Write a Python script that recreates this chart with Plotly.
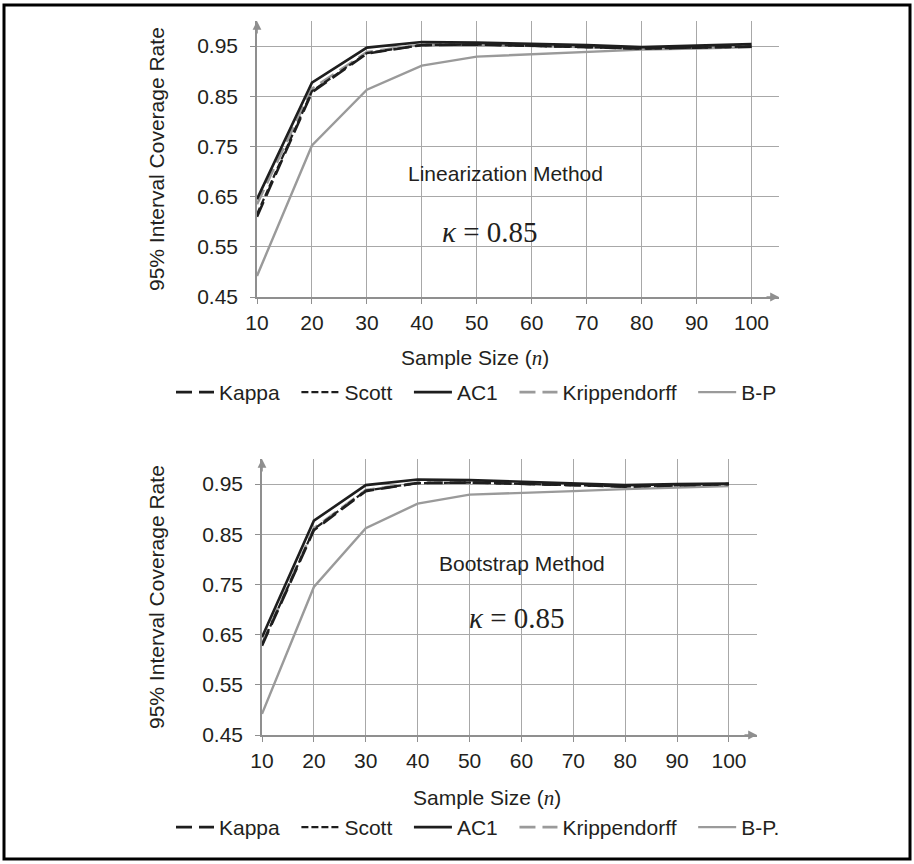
import plotly.graph_objects as go

n_values = [10, 20, 30, 40, 50, 60, 70, 80, 90, 100]

# Linearization method (top panel)
lin_kappa = [0.610, 0.858, 0.935, 0.952, 0.953, 0.951, 0.948, 0.945, 0.947, 0.949]
lin_scott = [0.615, 0.860, 0.936, 0.952, 0.953, 0.951, 0.948, 0.945, 0.947, 0.949]
lin_ac1 = [0.645, 0.877, 0.947, 0.958, 0.957, 0.955, 0.952, 0.948, 0.951, 0.954]
lin_kripp = [0.635, 0.865, 0.938, 0.953, 0.953, 0.951, 0.948, 0.945, 0.947, 0.949]
lin_bp = [0.492, 0.752, 0.863, 0.911, 0.929, 0.934, 0.938, 0.943, 0.945, 0.948]

# Bootstrap method (bottom panel)
boot_kappa = [0.628, 0.858, 0.936, 0.952, 0.953, 0.951, 0.948, 0.945, 0.947, 0.950]
boot_scott = [0.630, 0.860, 0.937, 0.952, 0.953, 0.951, 0.948, 0.945, 0.947, 0.950]
boot_ac1 = [0.645, 0.877, 0.948, 0.959, 0.958, 0.955, 0.952, 0.948, 0.950, 0.951]
boot_kripp = [0.632, 0.862, 0.938, 0.953, 0.953, 0.951, 0.948, 0.945, 0.947, 0.950]
boot_bp = [0.492, 0.745, 0.862, 0.911, 0.929, 0.932, 0.936, 0.940, 0.943, 0.946]

series_names_top = ["Kappa", "Scott", "AC1", "Krippendorff", "B-P"]
series_names_bottom = ["Kappa", "Scott", "AC1", "Krippendorff", "B-P."]

y_ticks = [0.45, 0.55, 0.65, 0.75, 0.85, 0.95]
y_tick_text = ["0.45", "0.55", "0.65", "0.75", "0.85", "0.95"]

BLACK = "#1e1e1e"
GRAY = "#9a9a9a"
GRID = "#a8a8a8"
AXIS = "#8f8f8f"
TEXT = "#231f20"
SANS = "Liberation Sans, Arial, sans-serif"
SERIF = "Liberation Serif, Times New Roman, serif"
FS = 21

styles = [
    dict(color=BLACK, width=2.6, dash="16px,7px"),
    dict(color=BLACK, width=2.2, dash="7px,3px"),
    dict(color=BLACK, width=2.6, dash="solid"),
    dict(color=GRAY, width=2.6, dash="16px,7px"),
    dict(color=GRAY, width=2.4, dash="solid"),
]

PAD = "\u00a0\u00a0"

fig = go.Figure()

top_series = [lin_kappa, lin_scott, lin_ac1, lin_kripp, lin_bp]
bot_series = [boot_kappa, boot_scott, boot_ac1, boot_kripp, boot_bp]

order = [4, 3, 0, 1, 2]
for i in order:
    fig.add_trace(go.Scatter(x=n_values, y=top_series[i], mode="lines",
                             name=series_names_top[i] + PAD, line=styles[i],
                             xaxis="x", yaxis="y", legend="legend",
                             legendrank=i + 1))
for i in order:
    fig.add_trace(go.Scatter(x=n_values, y=bot_series[i], mode="lines",
                             name=series_names_bottom[i] + PAD, line=styles[i],
                             xaxis="x2", yaxis="y2", legend="legend2",
                             legendrank=i + 1))

W, H = 914, 864

def px_x(p):
    return p / W

def px_y(p):
    return 1 - p / H

axis_common = dict(
    showgrid=True, gridcolor=GRID, gridwidth=1.3,
    showline=True, linecolor=AXIS, linewidth=1.6,
    ticks="outside", ticklen=5, tickcolor=AXIS, tickwidth=1.3,
    tickfont=dict(family=SANS, size=FS, color=TEXT),
    zeroline=False, automargin=False, fixedrange=True,
)

fig.update_layout(
    width=W, height=H,
    margin=dict(l=0, r=0, t=0, b=0),
    paper_bgcolor="white", plot_bgcolor="white",
    xaxis=dict(axis_common, domain=[px_x(257), px_x(779)], range=[10, 105],
               tickvals=n_values, anchor="y", ticklabelstandoff=1),
    yaxis=dict(axis_common, domain=[px_y(297), px_y(21)], range=[0.45, 1.0],
               tickvals=y_ticks, ticktext=y_tick_text, anchor="x", ticklabelstandoff=8),
    xaxis2=dict(axis_common, domain=[px_x(262), px_x(757)], range=[10, 105.4],
                tickvals=n_values, anchor="y2", ticklabelstandoff=1),
    yaxis2=dict(axis_common, domain=[px_y(735), px_y(459)], range=[0.45, 1.0],
                tickvals=y_ticks, ticktext=y_tick_text, anchor="x2", ticklabelstandoff=8),
    legend=dict(orientation="h", x=px_x(171), y=px_y(372), xanchor="left", yanchor="top",
                font=dict(family=SANS, size=FS, color=TEXT), itemwidth=38,
                bgcolor="rgba(0,0,0,0)", traceorder="normal"),
    legend2=dict(orientation="h", x=px_x(171), y=px_y(807), xanchor="left", yanchor="top",
                 font=dict(family=SANS, size=FS, color=TEXT), itemwidth=38,
                 bgcolor="rgba(0,0,0,0)", traceorder="normal"),
    showlegend=True,
)

x_title = "Sample Size (<span style='font-family:Liberation Serif; font-style:italic'>n</span>)"
y_title = "95% Interval Coverage Rate"

def label(x, y, text, size=FS, family=SANS, angle=0):
    return dict(x=px_x(x), y=px_y(y), xref="paper", yref="paper", text=text,
                showarrow=False, xanchor="center", yanchor="middle", textangle=angle,
                font=dict(family=family, size=size, color=TEXT))

annotations = []
for xr, yr, xmax in [("x", "y", 105), ("x2", "y2", 105.4)]:
    annotations.append(dict(x=xmax, y=0.45, xref=xr, yref=yr, ax=-14, ay=0, text="",
                            showarrow=True, arrowhead=2, arrowsize=1.1, arrowwidth=1.6,
                            arrowcolor=AXIS, standoff=0))
    annotations.append(dict(x=10, y=1.0, xref=xr, yref=yr, ax=0, ay=14, text="",
                            showarrow=True, arrowhead=2, arrowsize=1.1, arrowwidth=1.6,
                            arrowcolor=AXIS, standoff=0))

annotations += [
    label(475, 358, x_title),
    label(487, 798, x_title),
    label(156, 159, y_title, angle=-90),
    label(156, 597, y_title, angle=-90),
    label(505, 173, "Linearization Method"),
    label(490, 232, "<i>κ</i> = 0.85", size=29, family=SERIF),
    label(522, 563, "Bootstrap Method"),
    label(517, 618, "<i>κ</i> = 0.85", size=29, family=SERIF),
]
fig.update_layout(annotations=annotations)

fig.add_shape(type="rect", xref="paper", yref="paper",
              x0=px_x(4), x1=px_x(910), y0=px_y(859), y1=px_y(5),
              line=dict(color="black", width=3), fillcolor="rgba(0,0,0,0)")

fig.write_html("out.html", config={"displayModeBar": False},
               post_script="document.body.style.margin='0';document.body.style.overflow='hidden';")
